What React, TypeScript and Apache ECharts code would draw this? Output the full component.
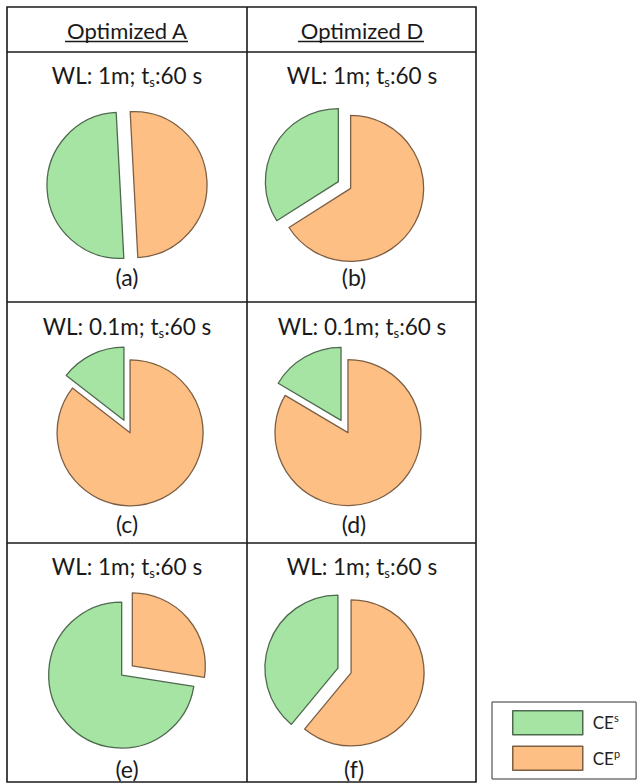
import React, { useEffect, useRef } from 'react';
import * as echarts from 'echarts';

// ---- data ----
const columnHeaders = ['Optimized A', 'Optimized D'];
const panelLabels = ['(a)', '(b)', '(c)', '(d)', '(e)', '(f)'];
const panelWL = ['1m', '1m', '0.1m', '0.1m', '1m', '1m'];
const panelTs = ['60', '60', '60', '60', '60', '60'];
const seriesNames = ['CEp', 'CEs'];
const legendOrder = ['CEs', 'CEp'];
const ceP = [50, 66, 85.5, 83.5, 27.5, 61];
const ceS = [50, 34, 14.5, 16.5, 72.5, 39];
const startAngles = [93, 90, 90, 90, 90, 90];

// ---- layout / style ----
const FONT = 'Lato, "Open Sans", sans-serif';
const COLORS: Record<string, { fill: string; border: string }> = {
  CEs: { fill: '#a6e4a4', border: '#4e6a4e' },
  CEp: { fill: '#fdbf84', border: '#7d5f44' },
};
const colTitleX = [127, 362];
const colLabelX = [127, 354];
const pieX = [127, 344.5];
const rowTitleY = [75, 326, 566];
const rowPieY = [185, 426.5, 670.5];
const rowLabelY = [277, 524, 769];
const TABLE = { left: 7, right: 476, top: 7, bottom: 782, midX: 247, hLines: [52, 302, 543] };

export default function App() {
  const ref = useRef<HTMLDivElement>(null);
  useEffect(() => {
    if (!ref.current) return;
    const chart = echarts.init(ref.current, undefined, { renderer: 'svg' });

    const lineStyle = { stroke: '#1a1a1a', lineWidth: 1.6 };
    const graphics: any[] = [];
    graphics.push({
      type: 'rect',
      shape: { x: TABLE.left, y: TABLE.top, width: TABLE.right - TABLE.left, height: TABLE.bottom - TABLE.top },
      style: { fill: 'none', ...lineStyle },
    });
    graphics.push({ type: 'line', shape: { x1: TABLE.midX, y1: TABLE.top, x2: TABLE.midX, y2: TABLE.bottom }, style: lineStyle });
    TABLE.hLines.forEach((y) =>
      graphics.push({ type: 'line', shape: { x1: TABLE.left, y1: y, x2: TABLE.right, y2: y }, style: lineStyle })
    );

    columnHeaders.forEach((h, i) => {
      graphics.push({
        type: 'text',
        x: colTitleX[i],
        y: 30,
        style: { text: h, font: `22px ${FONT}`, fill: '#1a1a1a', align: 'center', verticalAlign: 'middle' },
      });
    });
    // underlines
    const ul = [[65, 188], [298, 424]];
    ul.forEach(([a, b]) =>
      graphics.push({ type: 'line', shape: { x1: a, y1: 41.5, x2: b, y2: 41.5 }, style: { stroke: '#1a1a1a', lineWidth: 1.3 } })
    );

    panelLabels.forEach((lab, k) => {
      const r = Math.floor(k / 2);
      const c = k % 2;
      graphics.push({
        type: 'text',
        x: colTitleX[c],
        y: rowTitleY[r],
        style: {
          text: `WL: ${panelWL[k]}; t{sub|s}:${panelTs[k]} s`,
          fontFamily: FONT,
          fontSize: 22.5,
          fill: '#1a1a1a',
          align: 'center',
          verticalAlign: 'middle',
          rich: {
            sub: { fontFamily: FONT, fontSize: 13, fill: '#1a1a1a', padding: [13, 0, 0, 0] },
          },
        },
      });
      graphics.push({
        type: 'text',
        x: colLabelX[c],
        y: rowLabelY[r],
        style: { text: lab, font: `23px ${FONT}`, fill: '#1a1a1a', align: 'center', verticalAlign: 'middle' },
      });
    });

    const series = panelLabels.map((lab, k) => {
      const r = Math.floor(k / 2);
      const c = k % 2;
      const vals = [ceP[k], ceS[k]];
      return {
        type: 'pie',
        name: lab,
        center: [pieX[c], rowPieY[r]],
        radius: 73,
        startAngle: startAngles[k],
        clockwise: true,
        selectedMode: 'multiple',
        selectedOffset: 7,
        silent: true,
        label: { show: false },
        labelLine: { show: false },
        emphasis: { disabled: true },
        data: seriesNames.map((n, j) => ({
          name: n,
          value: vals[j],
          selected: true,
          itemStyle: { color: COLORS[n].fill, borderColor: COLORS[n].border, borderWidth: 1.3 },
        })),
      };
    });

    chart.setOption({
      animation: false,
      backgroundColor: '#ffffff',
      legend: {
        orient: 'vertical',
        left: 492,
        top: 702,
        data: legendOrder,
        icon: 'rect',
        itemWidth: 70,
        itemHeight: 24,
        itemGap: 10,
        padding: [8, 16, 8, 20],
        borderColor: '#333',
        borderWidth: 1,
        selectedMode: false,
        itemStyle: { borderWidth: 1.5 },
        textStyle: {
          fontFamily: FONT,
          fontSize: 17,
          color: '#222',
          padding: [0, 0, 0, 5],
          rich: {
            sup: { fontFamily: FONT, fontSize: 11, color: '#222', padding: [0, 0, 10, 0] },
          },
        },
        formatter: (n: string) => (n === 'CEs' ? 'CE{sup|s}' : 'CE{sup|p}'),
      },
      graphic: { elements: graphics },
      series,
    });
    return () => chart.dispose();
  }, []);
  return <div ref={ref} style={{ position: 'fixed', left: 0, top: 0, width: 641, height: 783 }} />;
}
